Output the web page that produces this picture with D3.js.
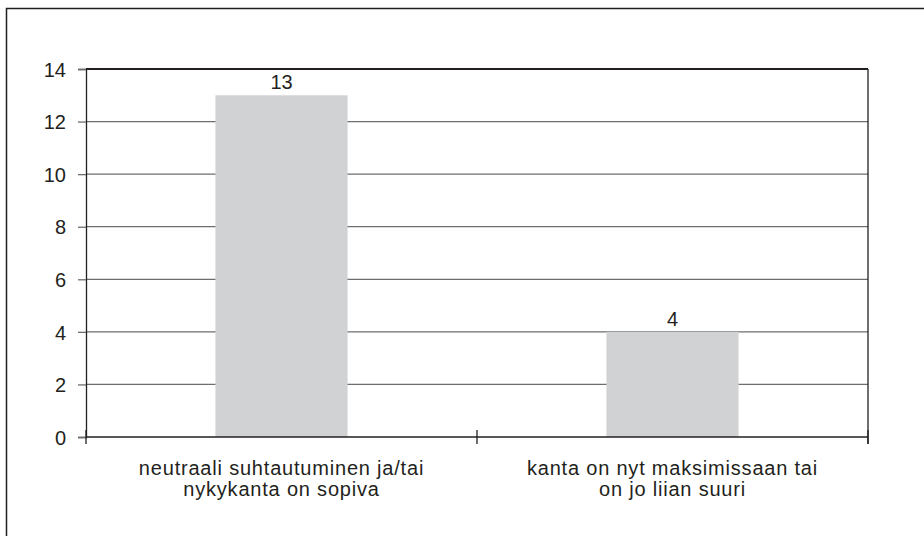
<!DOCTYPE html>
<html>
<head>
<meta charset="utf-8">
<script src="https://cdn.jsdelivr.net/npm/d3@7"></script>
<style>
  body { margin: 0; background: #fff; }
  svg text { font-family: "Liberation Sans", Arial, sans-serif; fill: #231f20; }
</style>
</head>
<body>
<div id="chart"></div>
<script>
var width = 924, height = 536;
var categories = [
  ["neutraali suhtautuminen ja/tai", "nykykanta on sopiva"],
  ["kanta on nyt maksimissaan tai", "on jo liian suuri"]
];
var values = [13, 4];
var yTicks = [0, 2, 4, 6, 8, 10, 12, 14];

var plot = { left: 86, top: 69, right: 868, bottom: 437 };

var svg = d3.select("#chart").append("svg")
    .attr("width", width).attr("height", height);

// outer frame
svg.append("rect")
    .attr("x", 6.5).attr("y", 8.5)
    .attr("width", 940).attr("height", 560)
    .attr("fill", "none").attr("stroke", "#231f20").attr("stroke-width", 1.5);

var x = d3.scaleBand()
    .domain(d3.range(values.length))
    .range([plot.left, plot.right])
    .paddingInner(0.662).paddingOuter(0.331);

var y = d3.scaleLinear()
    .domain([0, 14])
    .range([plot.bottom, plot.top]);

// gridlines
svg.append("g")
    .selectAll("line")
    .data(yTicks.slice(1, -1))
    .enter().append("line")
    .attr("x1", plot.left).attr("x2", plot.right)
    .attr("y1", function (d) { return y(d); })
    .attr("y2", function (d) { return y(d); })
    .attr("stroke", "#6d6e70").attr("stroke-width", 1.3);

// bars
svg.append("g")
    .selectAll("rect")
    .data(values)
    .enter().append("rect")
    .attr("x", function (d, i) { return x(i); })
    .attr("y", function (d) { return y(d); })
    .attr("width", x.bandwidth())
    .attr("height", function (d) { return plot.bottom - y(d); })
    .attr("fill", "#d1d2d4");

// value labels
svg.append("g")
    .selectAll("text")
    .data(values)
    .enter().append("text")
    .attr("x", function (d, i) { return x(i) + x.bandwidth() / 2; })
    .attr("y", function (d) { return y(d) - 6; })
    .attr("text-anchor", "middle")
    .attr("font-size", 20)
    .text(function (d) { return d; });

// plot border top/right
svg.append("line")
    .attr("x1", plot.left).attr("x2", plot.right)
    .attr("y1", plot.top).attr("y2", plot.top)
    .attr("stroke", "#231f20").attr("stroke-width", 2);
svg.append("line")
    .attr("x1", plot.right).attr("x2", plot.right)
    .attr("y1", plot.top).attr("y2", plot.bottom + 7)
    .attr("stroke", "#231f20").attr("stroke-width", 1.3);

// y axis
var yAxis = svg.append("g")
    .attr("transform", "translate(" + plot.left + ",0)")
    .call(d3.axisLeft(y).tickValues(yTicks).tickSize(8).tickPadding(12));
yAxis.select(".domain").attr("stroke", "#231f20").attr("stroke-width", 1.3);
yAxis.selectAll(".tick line").attr("stroke", "#6d6e70").attr("stroke-width", 1.3);
yAxis.selectAll("text").attr("font-size", 20).attr("dy", "0.36em")
    .attr("font-family", "Liberation Sans, Arial, sans-serif").attr("fill", "#231f20");

// x axis
svg.append("line")
    .attr("x1", plot.left).attr("x2", plot.right)
    .attr("y1", plot.bottom).attr("y2", plot.bottom)
    .attr("stroke", "#231f20").attr("stroke-width", 1.3);
var xBoundaries = [plot.left, (plot.left + plot.right) / 2, plot.right];
svg.append("g")
    .selectAll("line")
    .data(xBoundaries)
    .enter().append("line")
    .attr("x1", function (d) { return d; }).attr("x2", function (d) { return d; })
    .attr("y1", plot.bottom - 7).attr("y2", plot.bottom + 7)
    .attr("stroke", "#231f20").attr("stroke-width", 1.3);

// category labels
var catLabels = svg.append("g")
    .selectAll("text")
    .data(categories)
    .enter().append("text")
    .attr("x", function (d, i) { return x(i) + x.bandwidth() / 2; })
    .attr("y", 475)
    .attr("text-anchor", "middle")
    .attr("font-size", 20)
    .attr("letter-spacing", 0.8);
catLabels.selectAll("tspan")
    .data(function (d) { return d; })
    .enter().append("tspan")
    .attr("x", function () { return d3.select(this.parentNode).attr("x"); })
    .attr("dy", function (d, i) { return i === 0 ? 0 : 21; })
    .text(function (d) { return d; });
</script>
</body>
</html>
